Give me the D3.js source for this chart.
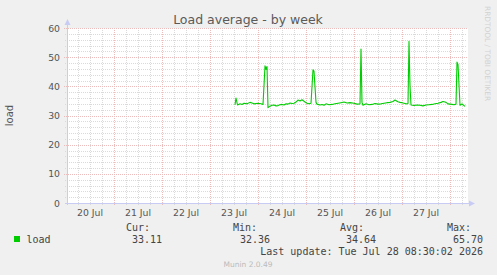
<!DOCTYPE html>
<html>
<head>
<meta charset="utf-8">
<script src="https://cdn.jsdelivr.net/npm/d3@7"></script>
<style>
  body { margin: 0; background: #f0f0f0; }
  svg { display: block; }
  text { font-family: "DejaVu Sans", sans-serif; }
  .mono { font-family: "DejaVu Sans Mono", monospace; font-size: 10px; fill: #444; }
</style>
</head>
<body>
<svg width="497" height="275"></svg>
<script>
// hours after 23 Jul 00:00 (UTC), load value
const loadHours = [12.5, 13, 13.75, 15, 16, 17, 18.5, 20, 21, 22, 24, 25.5, 26.5, 27.5, 28, 28.5, 29,
  30, 31, 32, 33, 34, 35, 36, 37, 38, 39, 40, 41, 42, 43, 44, 45, 46, 47, 47.5, 48.5, 49.5, 50.5, 51.5, 52,
  53, 53.5, 55, 56, 57, 58, 59.5, 61, 62.5, 64, 65.5, 67, 68.5, 70, 72, 73.5, 75, 75.5, 76, 76.5,
  78, 79.5, 81, 82.5, 84, 85.5, 87, 88.5, 90, 91.5, 92.5, 93.5, 94, 95, 96, 97, 98, 99, 99.5, 100, 100.5,
  102, 103.5, 105, 106.5, 108, 109.5, 111, 112.5, 114, 115.5, 116.5, 117.5, 118, 119, 120, 121, 122, 123, 123.5, 124, 125,
  126, 126.5, 127, 127.5];
const loadValues = [33.7, 36.0, 33.6, 34.0, 33.8, 34.2, 34.0, 34.5, 34.3, 34.0, 34.2, 34.0, 33.8, 47.0, 45.8, 46.8, 32.7,
  33.2, 33.5, 33.6, 33.3, 33.4, 33.7, 33.8, 33.6, 34.0, 33.9, 34.3, 34.1, 34.2, 34.6, 35.3, 35.0, 35.4, 34.9, 34.6, 34.2, 34.0, 34.2, 45.7, 45.2,
  34.5, 33.9, 33.6, 33.8, 33.5, 34.0, 33.7, 33.8, 34.0, 34.2, 34.4, 34.6, 34.3, 34.4, 34.2, 33.9, 34.0, 52.8, 34.5, 33.5,
  34.0, 33.7, 33.8, 34.1, 33.9, 34.0, 34.2, 34.4, 34.5, 34.8, 35.3, 34.9, 34.7, 34.5, 34.4, 34.2, 34.0, 34.1, 55.4, 40.0, 33.6,
  33.4, 33.6, 33.5, 33.3, 33.6, 33.7, 33.8, 34.0, 34.2, 34.5, 34.8, 34.6, 34.5, 34.0, 33.9, 33.8, 33.7, 33.9, 48.3, 47.5, 33.5,
  34.0, 33.6, 33.4, 33.1];

const yTicks = [0, 10, 20, 30, 40, 50, 60];
const dayLabels = ["20 Jul", "21 Jul", "22 Jul", "23 Jul", "24 Jul", "25 Jul", "26 Jul", "27 Jul"];
const legendHeads = ["Cur:", "Min:", "Avg:", "Max:"];
const legendValues = ["33.11", "32.36", "34.64", "65.70"];
const lastUpdate = "Last update: Tue Jul 28 08:30:02 2026";

const endTime = new Date(Date.UTC(2026, 6, 28, 8, 30, 2));
const startTime = new Date(endTime.getTime() - 200 * 3600 * 1000);
const baseTime = Date.UTC(2026, 6, 23, 0, 0, 0);

const plotLeft = 67, plotRight = 467, plotTop = 28, plotBottom = 203;

const svg = d3.select("svg");

const x = d3.scaleUtc()
  .domain([startTime, endTime])
  .range([plotLeft, plotRight]);

const y = d3.scaleLinear()
  .domain([0, 60])
  .range([plotBottom, plotTop]);

const minorColor = "#dadada";
const majorColor = "#ecbcbc";
const axisColor = "#c8ccf4";

// plot area
svg.append("rect")
  .attr("x", plotLeft)
  .attr("y", plotTop)
  .attr("width", plotRight - plotLeft + 1)
  .attr("height", plotBottom - plotTop)
  .attr("fill", "#ffffff");

// minor grid
const gridG = svg.append("g").attr("shape-rendering", "crispEdges");

const minorX = d3.utcHour.every(6).range(startTime, endTime)
  .filter(d => d.getUTCHours() !== 0);
gridG.selectAll(".minx").data(minorX).join("line")
  .attr("x1", d => Math.round(x(d)) + 0.5).attr("x2", d => Math.round(x(d)) + 0.5)
  .attr("y1", plotTop).attr("y2", plotBottom + 2)
  .attr("stroke", minorColor).attr("stroke-dasharray", "1,1");

const minorY = d3.range(2, 61, 2).filter(v => v % 10 !== 0);
gridG.selectAll(".miny").data(minorY).join("line")
  .attr("x1", plotLeft - 2).attr("x2", plotRight)
  .attr("y1", d => Math.round(y(d)) + 0.5).attr("y2", d => Math.round(y(d)) + 0.5)
  .attr("stroke", minorColor).attr("stroke-dasharray", "1,1");

// major grid
const majorX = d3.utcDay.range(startTime, endTime);
gridG.selectAll(".majx").data(majorX).join("line")
  .attr("x1", d => Math.round(x(d)) + 0.5).attr("x2", d => Math.round(x(d)) + 0.5)
  .attr("y1", plotTop).attr("y2", plotBottom + 3)
  .attr("stroke", majorColor).attr("stroke-dasharray", "1,1");

gridG.selectAll(".majy").data(yTicks.filter(v => v > 0)).join("line")
  .attr("x1", plotLeft - 3).attr("x2", plotRight)
  .attr("y1", d => Math.round(y(d)) + 0.5).attr("y2", d => Math.round(y(d)) + 0.5)
  .attr("stroke", majorColor).attr("stroke-dasharray", "1,1");

// y tick labels
svg.append("g")
  .selectAll("text").data(yTicks).join("text")
  .attr("x", 60)
  .attr("y", d => y(d) + 3.5)
  .attr("text-anchor", "end")
  .attr("font-size", "9.3px")
  .attr("fill", "#555")
  .text(d => d);

// x tick labels at noon
const noonTimes = dayLabels.map((_, i) => new Date(Date.UTC(2026, 6, 20 + i, 12)));
svg.append("g")
  .selectAll("text").data(noonTimes).join("text")
  .attr("x", d => x(d))
  .attr("y", 216)
  .attr("text-anchor", "middle")
  .attr("font-size", "9.3px")
  .attr("fill", "#555")
  .text((d, i) => dayLabels[i]);

// axes with arrows
svg.append("line")
  .attr("x1", plotLeft + 0.5).attr("x2", plotLeft + 0.5)
  .attr("y1", plotBottom + 2).attr("y2", plotTop - 5)
  .attr("stroke", axisColor).attr("shape-rendering", "crispEdges");
svg.append("line")
  .attr("x1", plotLeft - 2).attr("x2", plotRight + 4)
  .attr("y1", plotBottom + 0.5).attr("y2", plotBottom + 0.5)
  .attr("stroke", axisColor).attr("shape-rendering", "crispEdges");
svg.append("path")
  .attr("d", `M${plotLeft - 2.5},${plotTop - 3}L${plotLeft + 3.5},${plotTop - 3}L${plotLeft + 0.5},${plotTop - 9}Z`)
  .attr("fill", axisColor);
svg.append("path")
  .attr("d", `M${plotRight + 2},${plotBottom - 2.5}L${plotRight + 2},${plotBottom + 3.5}L${plotRight + 8},${plotBottom + 0.5}Z`)
  .attr("fill", axisColor);

// the load line
const points = loadHours.map((h, i) => [new Date(baseTime + h * 3600 * 1000), loadValues[i]]);
const line = d3.line()
  .x(d => x(d[0]))
  .y(d => y(d[1]));

svg.append("path")
  .datum(points)
  .attr("d", line)
  .attr("fill", "none")
  .attr("stroke", "#00cc00")
  .attr("stroke-width", 1.1)
  .attr("stroke-linejoin", "round");

// title
svg.append("text")
  .attr("x", 248)
  .attr("y", 24)
  .attr("text-anchor", "middle")
  .attr("font-size", "12.5px")
  .attr("fill", "#5a5a5a")
  .text("Load average - by week");

// vertical axis title
svg.append("text")
  .attr("transform", "translate(13," + ((plotTop + plotBottom) / 2) + ") rotate(-90)")
  .attr("text-anchor", "middle")
  .attr("font-size", "10px")
  .attr("fill", "#555")
  .text("load");

// rrdtool credit
svg.append("text")
  .attr("transform", "translate(485,6) rotate(90)")
  .attr("font-size", "7.4px")
  .attr("fill", "#d2d2d2")
  .text("RRDTOOL / TOBI OETIKER");

// legend
const headEnds = [150, 257, 364, 471];
const valueEnds = [162, 270, 376, 483];

svg.append("g")
  .selectAll("text").data(legendHeads).join("text")
  .attr("class", "mono")
  .attr("x", (d, i) => headEnds[i])
  .attr("y", 231)
  .attr("text-anchor", "end")
  .text(d => d);

svg.append("rect")
  .attr("x", 14).attr("y", 236)
  .attr("width", 6).attr("height", 6)
  .attr("fill", "#00cc00");

svg.append("text")
  .attr("class", "mono")
  .attr("x", 26.5).attr("y", 243)
  .text("load");

svg.append("g")
  .selectAll("text").data(legendValues).join("text")
  .attr("class", "mono")
  .attr("x", (d, i) => valueEnds[i])
  .attr("y", 243)
  .attr("text-anchor", "end")
  .text(d => d);

svg.append("text")
  .attr("class", "mono")
  .attr("x", 483).attr("y", 255)
  .attr("text-anchor", "end")
  .text(lastUpdate);

svg.append("text")
  .attr("x", 248).attr("y", 267)
  .attr("text-anchor", "middle")
  .attr("font-size", "7.5px")
  .attr("fill", "#bbbbbb")
  .text("Munin 2.0.49");
</script>
</body>
</html>
